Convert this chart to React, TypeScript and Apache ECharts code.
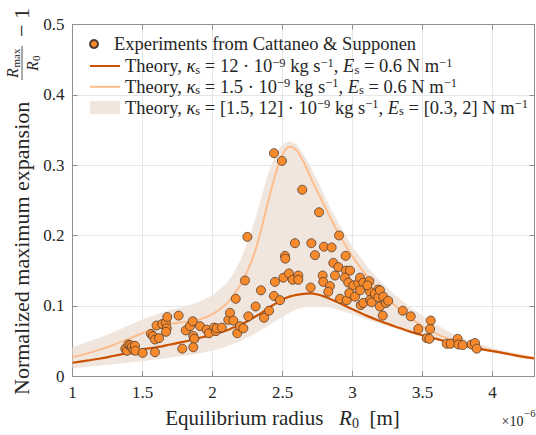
import { useEffect, useRef } from 'react';
import * as echarts from 'echarts';

const FONT = 'Liberation Serif, DejaVu Serif, serif';
const TEXT = '#262626';

// Experimental points (R0 in micrometres, normalized max expansion)
const expR = [
  1.377, 1.389, 1.399, 1.413, 1.423, 1.434, 1.446, 1.449, 1.501, 1.589,
  1.561, 1.575, 1.589, 1.618, 1.601, 1.641, 1.668, 1.677, 1.673, 1.668,
  1.758, 1.784, 1.809, 1.839, 1.859, 1.863, 1.870, 1.863, 1.911, 1.958,
  1.975, 2.011, 2.025, 2.030, 2.066, 2.113, 2.125, 2.149, 2.177, 2.196,
  2.220, 2.166, 2.232, 2.249, 2.256, 2.308, 2.346, 2.368, 2.404, 2.446,
  2.439, 2.482, 2.439, 2.496, 2.506, 2.518, 2.520, 2.546, 2.573, 2.613,
  2.613, 2.589, 2.641, 2.701, 2.706, 2.732, 2.761, 2.796, 2.851, 2.863,
  2.899, 2.904, 2.951, 2.875, 2.787, 2.791, 2.839, 2.827, 2.954, 2.982,
  2.946, 2.970, 3.006, 3.042, 3.054, 3.077, 3.120, 3.125, 3.184, 3.106,
  2.911, 2.959, 2.977, 3.018, 3.054, 3.059, 3.077, 3.125, 3.137, 3.160,
  3.184, 3.196, 3.216, 3.196, 3.220, 3.239, 3.255, 3.359, 3.416, 3.470,
  3.559, 3.554, 3.530, 3.549, 3.673, 3.701, 3.751, 3.756, 3.787, 3.851,
  3.875, 3.887,
];
const expV = [
  0.039, 0.036, 0.045, 0.044, 0.041, 0.037, 0.043, 0.036, 0.033, 0.034,
  0.060, 0.057, 0.052, 0.054, 0.072, 0.074, 0.076, 0.084, 0.068, 0.063,
  0.086, 0.039, 0.065, 0.071, 0.078, 0.057, 0.053, 0.041, 0.071, 0.066,
  0.061, 0.069, 0.064, 0.068, 0.069, 0.080, 0.090, 0.079, 0.061, 0.071,
  0.068, 0.110, 0.136, 0.198, 0.085, 0.099, 0.122, 0.083, 0.093, 0.134,
  0.114, 0.108, 0.317, 0.306, 0.140, 0.171, 0.167, 0.146, 0.137, 0.143,
  0.137, 0.189, 0.265, 0.126, 0.189, 0.172, 0.233, 0.184, 0.183, 0.161,
  0.155, 0.200, 0.171, 0.143, 0.143, 0.134, 0.128, 0.120, 0.150, 0.150,
  0.140, 0.133, 0.129, 0.132, 0.140, 0.133, 0.135, 0.120, 0.123, 0.129,
  0.110, 0.108, 0.118, 0.113, 0.122, 0.101, 0.104, 0.108, 0.105, 0.117,
  0.112, 0.099, 0.086, 0.122, 0.113, 0.104, 0.107, 0.093, 0.085, 0.067,
  0.079, 0.067, 0.054, 0.053, 0.046, 0.046, 0.053, 0.045, 0.044, 0.045,
  0.047, 0.039,
];

// Theory curves, sampled on a common R0 grid
const theoryR = [
  1.0, 1.1, 1.2, 1.3, 1.4, 1.5, 1.6, 1.7, 1.8, 1.9, 2.0, 2.1,
  2.15, 2.2, 2.25, 2.3, 2.35, 2.4, 2.45, 2.5, 2.55, 2.6, 2.65, 2.7, 2.75, 2.8, 2.85, 2.9,
  3.0, 3.1, 3.2, 3.3, 3.4, 3.5, 3.6, 3.7, 3.8, 3.9, 4.0, 4.1, 4.2, 4.3,
];
const strongV = [
  0.019, 0.022, 0.025, 0.029, 0.033, 0.038, 0.041, 0.045, 0.049, 0.054, 0.059, 0.065,
  0.069, 0.073, 0.078, 0.084, 0.090, 0.097, 0.103, 0.109, 0.113, 0.1155, 0.117, 0.1175, 0.116, 0.113, 0.109, 0.1045,
  0.095, 0.086, 0.078, 0.071, 0.064, 0.058, 0.053, 0.0475, 0.043, 0.039, 0.0355, 0.032, 0.028, 0.025,
];
const weakV = [
  0.027, 0.032, 0.038, 0.045, 0.053, 0.061, 0.069, 0.074, 0.077, 0.080, 0.088, 0.103,
  0.115, 0.130, 0.150, 0.175, 0.210, 0.250, 0.287, 0.315, 0.326, 0.321, 0.305, 0.283, 0.262, 0.242, 0.222, 0.203,
  0.170, 0.143, 0.120, 0.101, 0.085, 0.071, 0.060, 0.052, 0.045, 0.040, 0.036, 0.032, 0.029, 0.026,
];
const bandUpper = [
  0.041, 0.048, 0.055, 0.063, 0.072, 0.081, 0.088, 0.094, 0.099, 0.105, 0.115, 0.132,
  0.146, 0.165, 0.190, 0.220, 0.255, 0.290, 0.315, 0.330, 0.334, 0.330, 0.315, 0.298, 0.278, 0.256, 0.236, 0.218,
  0.184, 0.157, 0.134, 0.116, 0.100, 0.086, 0.073, 0.062, 0.053, 0.046, 0.040, 0.035, 0.031, 0.028,
];
const bandLower = [
  0.011, 0.013, 0.015, 0.017, 0.019, 0.021, 0.024, 0.026, 0.029, 0.032, 0.036, 0.042,
  0.046, 0.050, 0.055, 0.060, 0.066, 0.072, 0.078, 0.084, 0.090, 0.095, 0.098, 0.100, 0.100, 0.099, 0.097, 0.094,
  0.088, 0.081, 0.074, 0.068, 0.062, 0.056, 0.051, 0.046, 0.042, 0.038, 0.034, 0.031, 0.027, 0.024,
];

const NAME_EXP = 'Experiments from Cattaneo & Supponen';
const NAME_STRONG = 'Theory, κs = 12·10^-9 kg s^-1, Es = 0.6 N m^-1';
const NAME_WEAK = 'Theory, κs = 1.5·10^-9 kg s^-1, Es = 0.6 N m^-1';
const NAME_BAND = 'Theory, κs = [1.5, 12]·10^-9 kg s^-1, Es = [0.3, 2] N m^-1';

const legendRich: Record<string, string> = {
  [NAME_EXP]: '{t|Experiments from Cattaneo & Supponen}',
  [NAME_STRONG]:
    '{t|Theory, }{i|κ}{sub|s}{t| = 12 · 10}{sup|−9}{t| kg s}{sup|−1}{t|, }{i|E}{sub|s}{t| = 0.6 N m}{sup|−1}',
  [NAME_WEAK]:
    '{t|Theory, }{i|κ}{sub|s}{t| = 1.5 · 10}{sup|−9}{t| kg s}{sup|−1}{t|, }{i|E}{sub|s}{t| = 0.6 N m}{sup|−1}',
  [NAME_BAND]:
    '{t|Theory, }{i|κ}{sub|s}{t| = [1.5, 12] · 10}{sup|−9}{t| kg s}{sup|−1}{t|, }{i|E}{sub|s}{t| = [0.3, 2] N m}{sup|−1}',
};

const C_EXP = '#f88a2c';
const C_STRONG = '#cc5200';
const C_WEAK = '#fdbd8c';
const C_BAND = '#f1e6de';

const LEG_FS = 18.5;
const richStyles = {
  t: { fontFamily: FONT, fontSize: LEG_FS, lineHeight: 20, color: TEXT },
  i: { fontFamily: FONT, fontSize: LEG_FS, fontStyle: 'italic', lineHeight: 20, color: TEXT },
  sub: { fontFamily: FONT, fontSize: 12.5, lineHeight: 12, verticalAlign: 'bottom', color: TEXT },
  sup: { fontFamily: FONT, fontSize: 12.5, lineHeight: 12, verticalAlign: 'top', color: TEXT },
};

function plainText(x: number, y: number, text: string, font: string, align = 'left') {
  return {
    type: 'text',
    x,
    y,
    style: { text, font, fill: TEXT, align, verticalAlign: 'middle' },
  };
}

export default function App() {
  const ref = useRef<HTMLDivElement>(null);

  useEffect(() => {
    if (!ref.current) return;
    const chart = echarts.init(ref.current, undefined, { renderer: 'svg' });

    const legendText = {
      fontFamily: FONT,
      fontSize: LEG_FS,
      lineHeight: 20,
      color: TEXT,
      rich: richStyles,
    };

    const axisCommon = {
      type: 'value' as const,
      axisLine: { show: true, onZero: false, lineStyle: { color: '#8f8f8f', width: 1 } },
      axisTick: { show: true, inside: true, length: 5, lineStyle: { color: '#8f8f8f' } },
    };

    const lineLegendStyle = { itemStyle: { opacity: 0 } };
    const F_MAIN = `22px ${FONT}`;
    const F_R = `italic 16px ${FONT}`;
    const F_SUB = `11px ${FONT}`;

    chart.setOption({
      animation: false,
      backgroundColor: '#ffffff',
      textStyle: { fontFamily: FONT },
      grid: { left: 72.5, right: 1.5, top: 24.5, bottom: 54.5, containLabel: false },
      xAxis: [
        {
          ...axisCommon,
          position: 'bottom',
          min: 1,
          max: 4.3,
          interval: 0.5,
          splitLine: { show: true, lineStyle: { color: '#e6e6e6', width: 1 } },
          axisLabel: {
            fontFamily: FONT,
            fontSize: 17,
            color: TEXT,
            margin: 8,
            showMaxLabel: false,
            formatter: (v: number) => (Math.abs(v - 4.3) < 1e-9 ? '' : String(v)),
          },
          name: '{t|Equilibrium radius   }{i|R}{sub|0}{t|  [m]}',
          nameLocation: 'middle',
          nameGap: 28,
          nameTextStyle: {
            fontFamily: FONT,
            fontSize: 21,
            color: TEXT,
            lineHeight: 24,
            padding: [0, 42, 0, 0],
            rich: {
              t: { fontFamily: FONT, fontSize: 21, lineHeight: 24, color: TEXT },
              i: { fontFamily: FONT, fontSize: 21, fontStyle: 'italic', lineHeight: 24, color: TEXT },
              sub: { fontFamily: FONT, fontSize: 14, lineHeight: 16, verticalAlign: 'bottom', color: TEXT },
            },
          },
        },
        {
          ...axisCommon,
          position: 'top',
          min: 1,
          max: 4.3,
          interval: 0.5,
          splitLine: { show: false },
          axisLabel: { show: false },
        },
      ],
      yAxis: [
        {
          ...axisCommon,
          position: 'left',
          min: 0,
          max: 0.5,
          interval: 0.1,
          splitLine: { show: true, lineStyle: { color: '#e6e6e6', width: 1 } },
          axisLabel: { fontFamily: FONT, fontSize: 17, color: TEXT, margin: 8 },
        },
        {
          ...axisCommon,
          position: 'right',
          min: 0,
          max: 0.5,
          interval: 0.1,
          splitLine: { show: false },
          axisLabel: { show: false },
        },
      ],
      legend: [
        {
          data: [NAME_EXP],
          left: 84,
          top: 29,
          orient: 'vertical',
          itemWidth: 30,
          itemHeight: 8,
          itemGap: 0.8,
          textStyle: legendText,
          formatter: (n: string) => legendRich[n] ?? n,
        },
        {
          data: [
            { name: NAME_STRONG, ...lineLegendStyle },
            { name: NAME_WEAK, ...lineLegendStyle },
            { name: NAME_BAND, icon: 'rect' },
          ],
          left: 84,
          top: 51,
          orient: 'vertical',
          itemWidth: 30,
          itemHeight: 13,
          itemGap: 0.8,
          textStyle: legendText,
          formatter: (n: string) => legendRich[n] ?? n,
        },
      ],
      graphic: [
        {
          type: 'group',
          x: 21,
          y: 395,
          rotation: Math.PI / 2,
          children: [
            plainText(0, 0, 'Normalized maximum expansion', F_MAIN),
            // numerator R_max
            plainText(317, -9, 'R', F_R),
            plainText(327.5, -5.5, 'max', F_SUB),
            { type: 'line', shape: { x1: 315, y1: 1, x2: 349, y2: 1 }, style: { stroke: TEXT, lineWidth: 0.8 } },
            // denominator R_0
            plainText(324, 11, 'R', F_R),
            plainText(334, 14.5, '0', F_SUB),
            plainText(358, 0, '− 1', F_MAIN),
          ],
        },
        plainText(523.5, 421, '×10', `14px ${FONT}`, 'right'),
        plainText(535.5, 413, '−6', `10.5px ${FONT}`, 'right'),
      ],
      series: [
        {
          type: 'custom',
          name: NAME_BAND,
          coordinateSystem: 'cartesian2d',
          xAxisIndex: 0,
          yAxisIndex: 0,
          data: [[theoryR[0], bandUpper[0]]],
          itemStyle: { color: C_BAND },
          z: 1,
          silent: true,
          renderItem: (params: any, api: any) => {
            if (params.dataIndex !== 0) return null;
            const upper = theoryR.map((r, i) => api.coord([r, bandUpper[i]]));
            const lower = theoryR.map((r, i) => api.coord([r, bandLower[i]])).reverse();
            return {
              type: 'polygon',
              shape: { points: upper.concat(lower) },
              style: { fill: C_BAND, stroke: 'none' },
            };
          },
        },
        {
          type: 'line',
          name: NAME_WEAK,
          data: theoryR.map((r, i) => [r, weakV[i]]),
          symbol: 'none',
          smooth: 0.3,
          lineStyle: { color: C_WEAK, width: 2 },
          itemStyle: { color: C_WEAK },
          z: 2,
        },
        {
          type: 'line',
          name: NAME_STRONG,
          data: theoryR.map((r, i) => [r, strongV[i]]),
          symbol: 'none',
          smooth: 0.3,
          lineStyle: { color: C_STRONG, width: 2.2 },
          itemStyle: { color: C_STRONG },
          z: 3,
        },
        {
          type: 'scatter',
          name: NAME_EXP,
          data: expR.map((r, i) => [r, expV[i]]),
          symbol: 'circle',
          symbolSize: 9,
          itemStyle: { color: C_EXP, borderColor: '#4a3b30', borderWidth: 0.8, opacity: 1 },
          z: 4,
        },
      ],
    });

    return () => chart.dispose();
  }, []);

  return (
    <div
      ref={ref}
      style={{ position: 'fixed', left: 0, top: 0, width: 536, height: 435, background: '#fff' }}
    />
  );
}
